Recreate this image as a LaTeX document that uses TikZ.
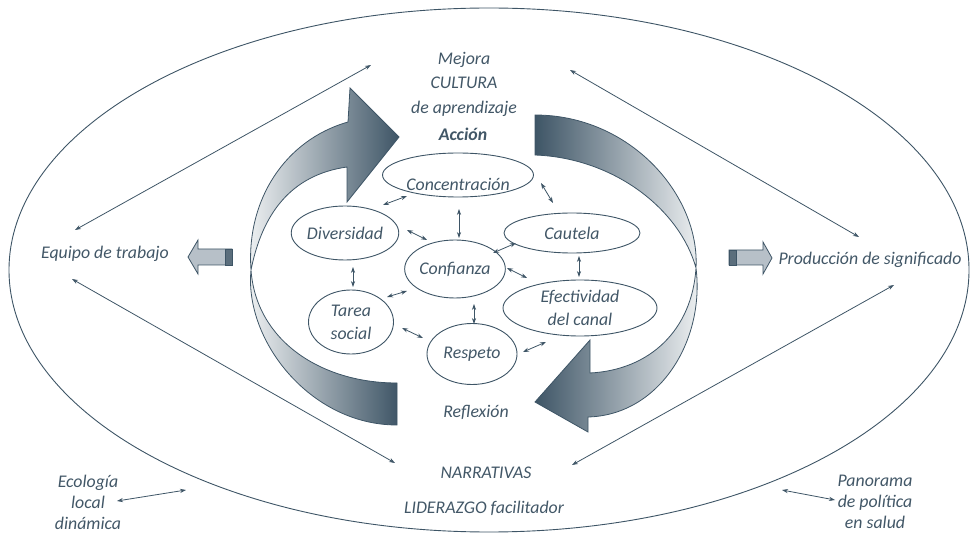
\documentclass[tikz,border=0pt]{standalone}
\usepackage{fontspec}
\setmainfont{Carlito}
\usetikzlibrary{arrows.meta,shapes.geometric}
\definecolor{ink}{HTML}{3E5566}
\definecolor{txt}{HTML}{425767}
\definecolor{pale}{HTML}{F3F5F6}
\definecolor{boxfill}{HTML}{B7C0C8}
\definecolor{boxdark}{HTML}{5B6E7C}
\begin{document}
\begin{tikzpicture}[x=1pt,y=-1pt,
  lbl/.style={font=\fontsize{17.8}{23}\selectfont\itshape, text=txt, align=center, inner sep=0pt},
  oval/.style={draw=ink, line width=0.9pt, ellipse, inner sep=0pt, lbl},
  dar/.style={draw=ink, line width=0.8pt, {Stealth[length=6pt,width=4.2pt]}-{Stealth[length=6pt,width=4.2pt]}},
  ribbon/.style={draw=ink, line width=0.8pt},
  blockarrow/.style={draw=ink, line width=0.8pt, fill=boxfill},
  bandbox/.style={draw=ink, line width=0.8pt, fill=boxdark},
]
\useasboundingbox (0,0) rectangle (974,534);

% outer ellipse
\node[draw=ink, line width=0.9pt, ellipse, inner sep=0pt, minimum width=960pt, minimum height=524pt] (outer) at (489,270) {};

% long connectors
\coordinate (l1a) at (75,230);  \coordinate (l1b) at (371,65);
\coordinate (l2a) at (72,279);  \coordinate (l2b) at (395,463);
\coordinate (l3a) at (570,70);  \coordinate (l3b) at (859,237);
\coordinate (l4a) at (572,465); \coordinate (l4b) at (894,285);
\coordinate (e1) at (117,501);  \coordinate (e2) at (186,490);
\coordinate (p1) at (782,490);  \coordinate (p2) at (835,500);
\draw[dar] (l1a) -- (l1b);
\draw[dar] (l2a) -- (l2b);
\draw[dar] (l3a) -- (l3b);
\draw[dar] (l4a) -- (l4b);
\draw[dar] (e1) -- (e2);
\draw[dar] (p1) -- (p2);

% twisted ribbon arrows
\path[ribbon, left color=pale, right color=ink]
 (348,122) .. controls (285,140) and (246,200) .. (251,270)
 .. controls (256,340) and (320,383) .. (397,383)
 -- (397,425)
 .. controls (310,425) and (244,340) .. (251,270)
 .. controls (262,215) and (290,175) .. (347,167)
 -- (347,202) -- (399,137) -- (350,88) -- cycle;
\path[ribbon, left color=ink, right color=pale]
 (535,115) .. controls (630,115) and (700,195) .. (696,268)
 .. controls (692,330) and (650,370) .. (590,373)
 -- (590,340) -- (535,402) -- (588,432) -- (588,417)
 .. controls (660,415) and (705,340) .. (696,268)
 .. controls (680,210) and (615,158) .. (535,155) -- cycle;

% block arrows
\path[blockarrow] (188,257) -- (198,240) -- (198,249) -- (232,249) -- (232,265) -- (198,265) -- (198,274) -- cycle;
\path[bandbox] (225,249) rectangle (232,265);
\path[blockarrow] (772,258) -- (763,242) -- (763,250) -- (729,250) -- (729,265) -- (763,265) -- (763,274) -- cycle;
\path[bandbox] (729,250) rectangle (736,265);

% inner ellipses
\node[oval, minimum width=151pt, minimum height=44pt] (conc) at (458,175) {};
\node[lbl] (concT) at (458,184) {Concentración};
\node[oval, minimum width=106pt, minimum height=54pt] (div) at (345,233) {Diversidad};
\node[oval, minimum width=136pt, minimum height=40pt] (cau) at (572,233) {Cautela};
\node[oval, minimum width=85pt, minimum height=58pt] (conf) at (455,269) {Confianza};
\node[oval, minimum width=85pt, minimum height=64pt] (tarea) at (351,322) {Tarea\\social};
\node[oval, minimum width=154pt, minimum height=56pt] (efec) at (580,308) {Efectividad\\del canal};
\node[oval, minimum width=90pt, minimum height=61pt] (resp) at (472,354) {Respeto};

% short connectors
\coordinate (s1a) at (407,196); \coordinate (s1b) at (383,205);
\coordinate (s2a) at (541,183); \coordinate (s2b) at (553,203);
\coordinate (s3a) at (459,209); \coordinate (s3b) at (459,238);
\coordinate (s4a) at (407,230); \coordinate (s4b) at (427,240);
\coordinate (s5a) at (493,253); \coordinate (s5b) at (516,243);
\coordinate (s6a) at (507,268); \coordinate (s6b) at (527,278);
\coordinate (s7a) at (579,256); \coordinate (s7b) at (579,277);
\coordinate (s8a) at (353,267); \coordinate (s8b) at (353,287);
\coordinate (s9a) at (387,297); \coordinate (s9b) at (407,291);
\coordinate (s10a) at (474,304); \coordinate (s10b) at (474,324);
\coordinate (s11a) at (402,328); \coordinate (s11b) at (423,338);
\coordinate (s12a) at (523,352); \coordinate (s12b) at (546,342);
\foreach \i in {1,...,12} {\draw[dar] (s\i a) -- (s\i b);}

% texts
\node[lbl, font=\fontsize{17.8}{24.5}\selectfont\itshape] (mejora) at (464,84) {Mejora\\CULTURA\\de aprendizaje};
\node[lbl, font=\fontsize{17.8}{23}\selectfont\bfseries\itshape] (accion) at (463,134) {Acción};
\node[lbl] (equipo) at (105,254) {Equipo de trabajo};
\node[lbl] (prod) at (870,260) {Producción de significado};
\node[lbl] (reflex) at (476,412) {Reflexión};
\node[lbl] (narr) at (486,473) {NARRATIVAS};
\node[lbl] (lider) at (484,508) {LIDERAZGO facilitador};
\node[lbl, font=\fontsize{17.8}{21}\selectfont\itshape] (eco) at (88,502) {Ecología\\local\\dinámica};
\node[lbl, font=\fontsize{17.8}{21}\selectfont\itshape] (pano) at (875,502) {Panorama\\de política\\en salud};
\end{tikzpicture}
\end{document}
